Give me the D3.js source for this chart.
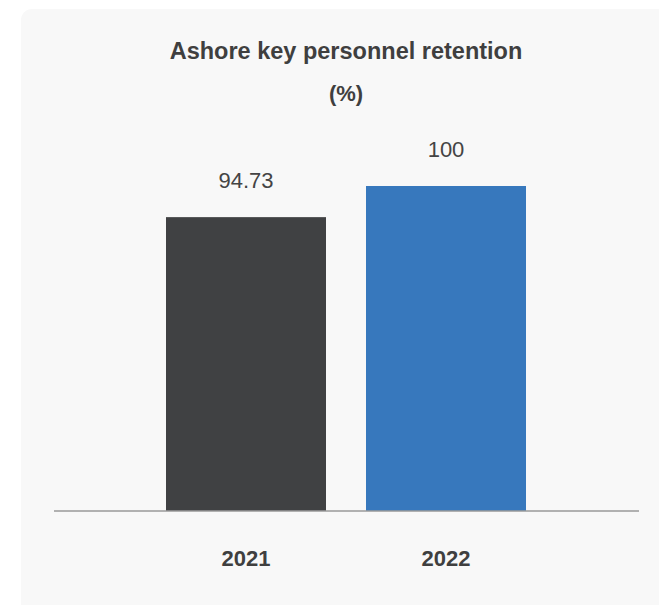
<!DOCTYPE html>
<html>
<head>
<meta charset="utf-8">
<script src="https://cdn.jsdelivr.net/npm/d3@7"></script>
<style>
  html, body { margin: 0; padding: 0; background: #ffffff; }
  svg { display: block; font-family: "Liberation Sans", Arial, Helvetica, sans-serif; }
</style>
</head>
<body>
<svg id="chart" width="659" height="605"></svg>
<script>
// Chart data
const years = ["2021", "2022"];
const retention = [94.73, 100];
const barColors = ["#404143", "#3778bd"];
const titleLines = ["Ashore key personnel retention", "(%)"];

const svg = d3.select("#chart");
const W = 659, H = 605;

// Card background
svg.append("rect")
  .attr("x", 21).attr("y", 9)
  .attr("width", W + 20).attr("height", H + 20)
  .attr("rx", 11).attr("ry", 11)
  .attr("fill", "#f8f8f8");

// Title
svg.append("text")
  .attr("x", 346).attr("y", 59)
  .attr("text-anchor", "middle")
  .attr("font-size", 23.5).attr("font-weight", "bold")
  .attr("fill", "#3f3f3f")
  .text(titleLines[0]);
svg.append("text")
  .attr("x", 346).attr("y", 101)
  .attr("text-anchor", "middle")
  .attr("font-size", 22).attr("font-weight", "bold")
  .attr("fill", "#3f3f3f")
  .text(titleLines[1]);

// Scales
const x = d3.scaleBand()
  .domain(years)
  .range([146, 546])
  .paddingInner(0.2)
  .paddingOuter(0.1);

const y = d3.scaleLinear()
  .domain([45, 100])
  .range([511, 186]);

const data = years.map((yr, i) => ({ year: yr, value: retention[i], color: barColors[i] }));

// Bars
svg.selectAll("rect.bar")
  .data(data)
  .join("rect")
  .attr("class", "bar")
  .attr("x", d => x(d.year))
  .attr("y", d => y(d.value))
  .attr("width", x.bandwidth())
  .attr("height", d => y.range()[0] - y(d.value))
  .attr("fill", d => d.color);

// Value labels
svg.selectAll("text.value")
  .data(data)
  .join("text")
  .attr("class", "value")
  .attr("x", d => x(d.year) + x.bandwidth() / 2)
  .attr("y", d => y(d.value) - 29)
  .attr("text-anchor", "middle")
  .attr("font-size", 22)
  .attr("fill", "#444444")
  .text(d => d.value);

// Baseline axis
const xAxis = svg.append("g")
  .attr("transform", `translate(0,${y.range()[0]})`);
xAxis.append("line")
  .attr("x1", 54).attr("x2", 639)
  .attr("y1", 0).attr("y2", 0)
  .attr("stroke", "#9a9a9a")
  .attr("stroke-width", 1.5);

// Category labels
svg.selectAll("text.cat")
  .data(years)
  .join("text")
  .attr("class", "cat")
  .attr("x", d => x(d) + x.bandwidth() / 2)
  .attr("y", 566)
  .attr("text-anchor", "middle")
  .attr("font-size", 22).attr("font-weight", "bold")
  .attr("fill", "#3f3f3f")
  .text(d => d);
</script>
</body>
</html>
